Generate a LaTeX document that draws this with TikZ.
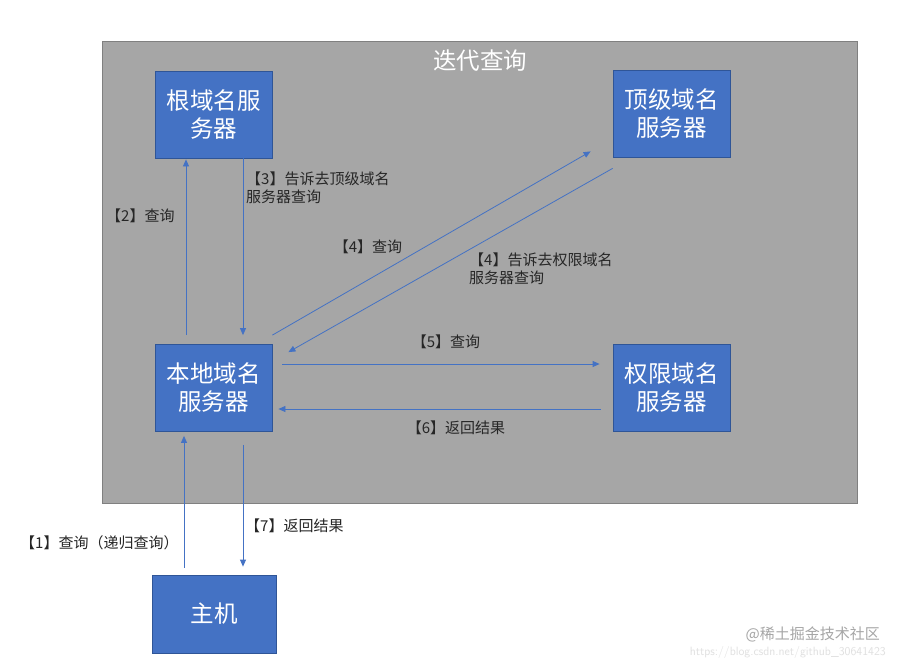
\documentclass[tikz,border=0pt]{standalone}
\usepackage{fontspec}
\newfontfamily\cjk{Noto Sans CJK SC}
\usetikzlibrary{arrows.meta}
\definecolor{bfill}{HTML}{4472C4}
\definecolor{bdraw}{HTML}{2F5597}
\definecolor{gfill}{HTML}{A6A6A6}
\definecolor{gdraw}{HTML}{808080}
\begin{document}
\begin{tikzpicture}[x=1pt,y=-1pt,
  srv/.style={rectangle,fill=bfill,draw=bdraw,line width=0.8pt,minimum width=117pt,minimum height=87pt,inner sep=0pt,text=white,align=center,font=\cjk\fontsize{23.5}{28}\selectfont},
  arr/.style={draw=bfill,line width=0.8pt,-{Triangle[width=6pt,length=7pt]}},
  lbl/.style={inner sep=0pt,align=left,text=black!85,font=\cjk\fontsize{15}{18}\selectfont}]
\useasboundingbox (0,0) rectangle (899,667);
\fill[white] (0,0) rectangle (899,667);
\node[fill=gfill,draw=gdraw,line width=0.8pt,minimum width=755pt,minimum height=462pt,inner sep=0pt] (frame) at (479.5,272) {};
\node[text=white,font=\cjk\fontsize{23.5}{28}\selectfont,inner sep=0pt] (title) at (480,61) {迭代查询};
\node[srv] (root) at (213.5,114.5) {根域名服\\务器};
\node[srv] (tld) at (671.5,113.5) {顶级域名\\服务器};
\node[srv] (local) at (213.5,388) {本地域名\\服务器};
\node[srv] (auth) at (671.5,387.5) {权限域名\\服务器};
\node[srv,minimum width=124pt,minimum height=78pt] (host) at (214,614) {主机};
% arrows
\draw[arr] ([xshift=-27.5pt,yshift=9pt]local.north) -- ([xshift=-27.5pt,yshift=-1pt]root.south);
\draw[arr] ([xshift=29.5pt]root.south) -- ([xshift=29.5pt,yshift=9pt]local.north);
\draw[arr] ([yshift=9pt]local.north east) -- ([xshift=-22pt,yshift=6pt]tld.south west);
\draw[arr] ([yshift=-11pt]tld.south west) -- ([xshift=16pt,yshift=-8pt]local.north east);
\draw[arr] ([xshift=10pt,yshift=24pt]local.east) -- ([xshift=-13pt,yshift=23.5pt]auth.west);
\draw[arr] ([xshift=-12pt,yshift=-21.5pt]auth.west) -- ([xshift=6pt,yshift=-21pt]local.east);
\draw[arr] ([xshift=-30pt,yshift=7pt]host.north) -- ([xshift=-29.5pt,yshift=-4pt]local.south);
\draw[arr] ([xshift=29.5pt,yshift=-13pt]local.south) -- ([xshift=29pt,yshift=8pt]host.north);
% labels
\node[lbl,anchor=west] (l2) at (106,216) {【2】查询};
\node[lbl,anchor=north west] (l3) at (246,172) {【3】告诉去顶级域名\\服务器查询};
\node[lbl] (l4a) at (368,247) {【4】查询};
\node[lbl,anchor=north west] (l4b) at (469,253) {【4】告诉去权限域名\\服务器查询};
\node[lbl] (l5) at (446,342) {【5】查询};
\node[lbl] (l6) at (456,428) {【6】返回结果};
\node[lbl,anchor=west] (l1) at (20,543) {【1】查询（递归查询）};
\node[lbl,anchor=west] (l7) at (245,526) {【7】返回结果};
% watermark
\node[inner sep=0pt,anchor=east,text=black!12,font=\sffamily\fontsize{12}{14}\selectfont] (wm2) at (886,652) {https://blog.csdn.net/github\_30641423};
\node[inner sep=0pt,anchor=east,text=black!35,font=\cjk\fontsize{15}{18}\selectfont] (wm1) at (880,634) {@稀土掘金技术社区};
\end{tikzpicture}
\end{document}
